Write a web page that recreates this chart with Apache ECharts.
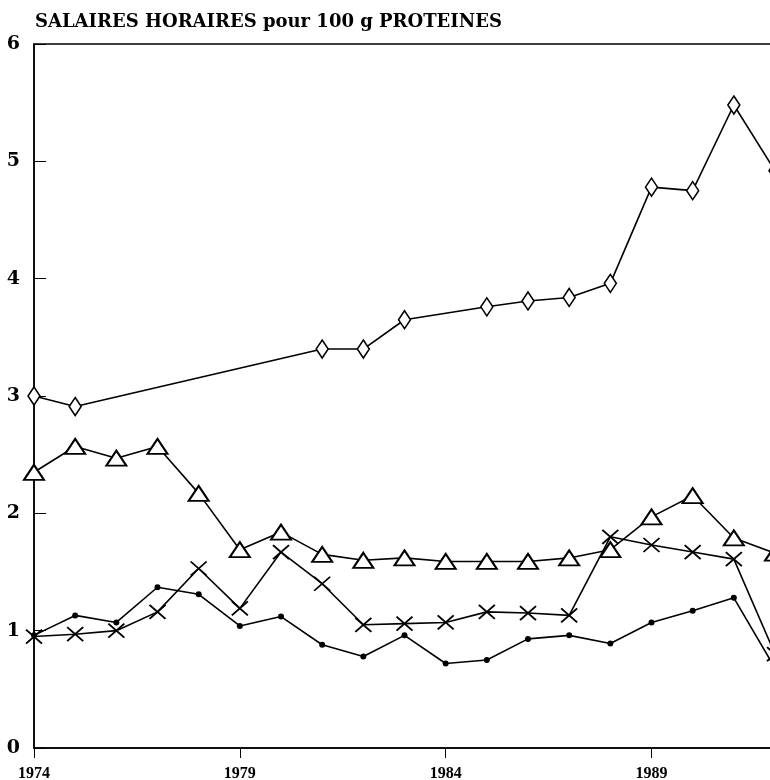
<!DOCTYPE html>
<html>
<head>
<meta charset="utf-8">
<script src="https://cdn.jsdelivr.net/npm/echarts@6/dist/echarts.min.js"></script>
<style>
  html, body { margin: 0; padding: 0; background: #fff; }
  #chart { width: 770px; height: 780px; }
</style>
</head>
<body>
<div id="chart"></div>
<script>
  // années 1974 - 1992
  const years = ['1974','1975','1976','1977','1978','1979','1980','1981','1982','1983',
                 '1984','1985','1986','1987','1988','1989','1990','1991','1992'];
  const yTicks = [0, 1, 2, 3, 4, 5, 6];

  const losange = [3.0, 2.91, null, null, null, null, null, 3.4, 3.4, 3.65,
                   null, 3.76, 3.81, 3.84, 3.96, 4.78, 4.75, 5.48, 4.92];
  const triangle = [2.35, 2.57, 2.47, 2.57, 2.17, 1.69, 1.84, 1.65, 1.6, 1.62,
                    1.59, 1.59, 1.59, 1.62, 1.69, 1.97, 2.15, 1.79, 1.66];
  const croix = [0.95, 0.97, 1.0, 1.16, 1.53, 1.19, 1.67, 1.4, 1.05, 1.06,
                 1.07, 1.16, 1.15, 1.13, 1.8, 1.73, 1.67, 1.61, 0.8];
  const point = [0.96, 1.13, 1.07, 1.37, 1.31, 1.04, 1.12, 0.88, 0.78, 0.96,
                 0.72, 0.75, 0.93, 0.96, 0.89, 1.07, 1.17, 1.28, 0.68];

  const myChart = echarts.init(document.getElementById('chart'));

  const serie = (data, symbol, size, fill, border) => ({
    type: 'line',
    data: data,
    connectNulls: true,
    symbol: symbol,
    symbolSize: size,
    showAllSymbol: true,
    animation: false,
    lineStyle: { color: '#000', width: 1.6 },
    itemStyle: { color: fill, borderColor: '#000', borderWidth: border }
  });

  const option = {
    backgroundColor: '#fff',
    title: {
      text: 'SALAIRES HORAIRES pour 100 g PROTEINES',
      left: 30,
      top: 8,
      textStyle: { fontFamily: 'DejaVu Serif', fontWeight: 'bold', fontSize: 18, color: '#000' }
    },
    grid: {
      left: 34, top: 44, width: 741, bottom: 32,
      outerBoundsMode: 'none',
      containLabel: false,
      show: true, borderColor: '#000', borderWidth: 1.5
    },
    xAxis: {
      type: 'category',
      data: years,
      boundaryGap: false,
      axisLine: { lineStyle: { color: '#000', width: 1.5 } },
      axisTick: { interval: 4, length: 10, lineStyle: { color: '#000' } },
      axisLabel: {
        interval: 4, margin: 18, color: '#000',
        fontFamily: 'Liberation Serif', fontWeight: 'bold', fontSize: 16
      },
      splitLine: { show: false }
    },
    yAxis: {
      type: 'value',
      min: yTicks[0],
      max: yTicks[yTicks.length - 1],
      interval: 1,
      axisLine: { show: true, lineStyle: { color: '#000', width: 1.5 } },
      axisTick: { show: true, inside: true, length: 12, lineStyle: { color: '#000' } },
      axisLabel: {
        margin: 14, color: '#000',
        fontFamily: 'DejaVu Serif', fontWeight: 'bold', fontSize: 19
      },
      splitLine: { show: false }
    },
    series: [
      serie(losange, 'diamond', [12, 18], '#fff', 1.6),
      serie(triangle, 'triangle', [20, 15], '#fff', 2),
      serie(croix, 'path://M0,0L10,10M10,0L0,10', [16, 14], '#000', 1.8),
      serie(point, 'circle', 6, '#000', 0)
    ]
  };
  option && myChart.setOption(option);
</script>
</body>
</html>
